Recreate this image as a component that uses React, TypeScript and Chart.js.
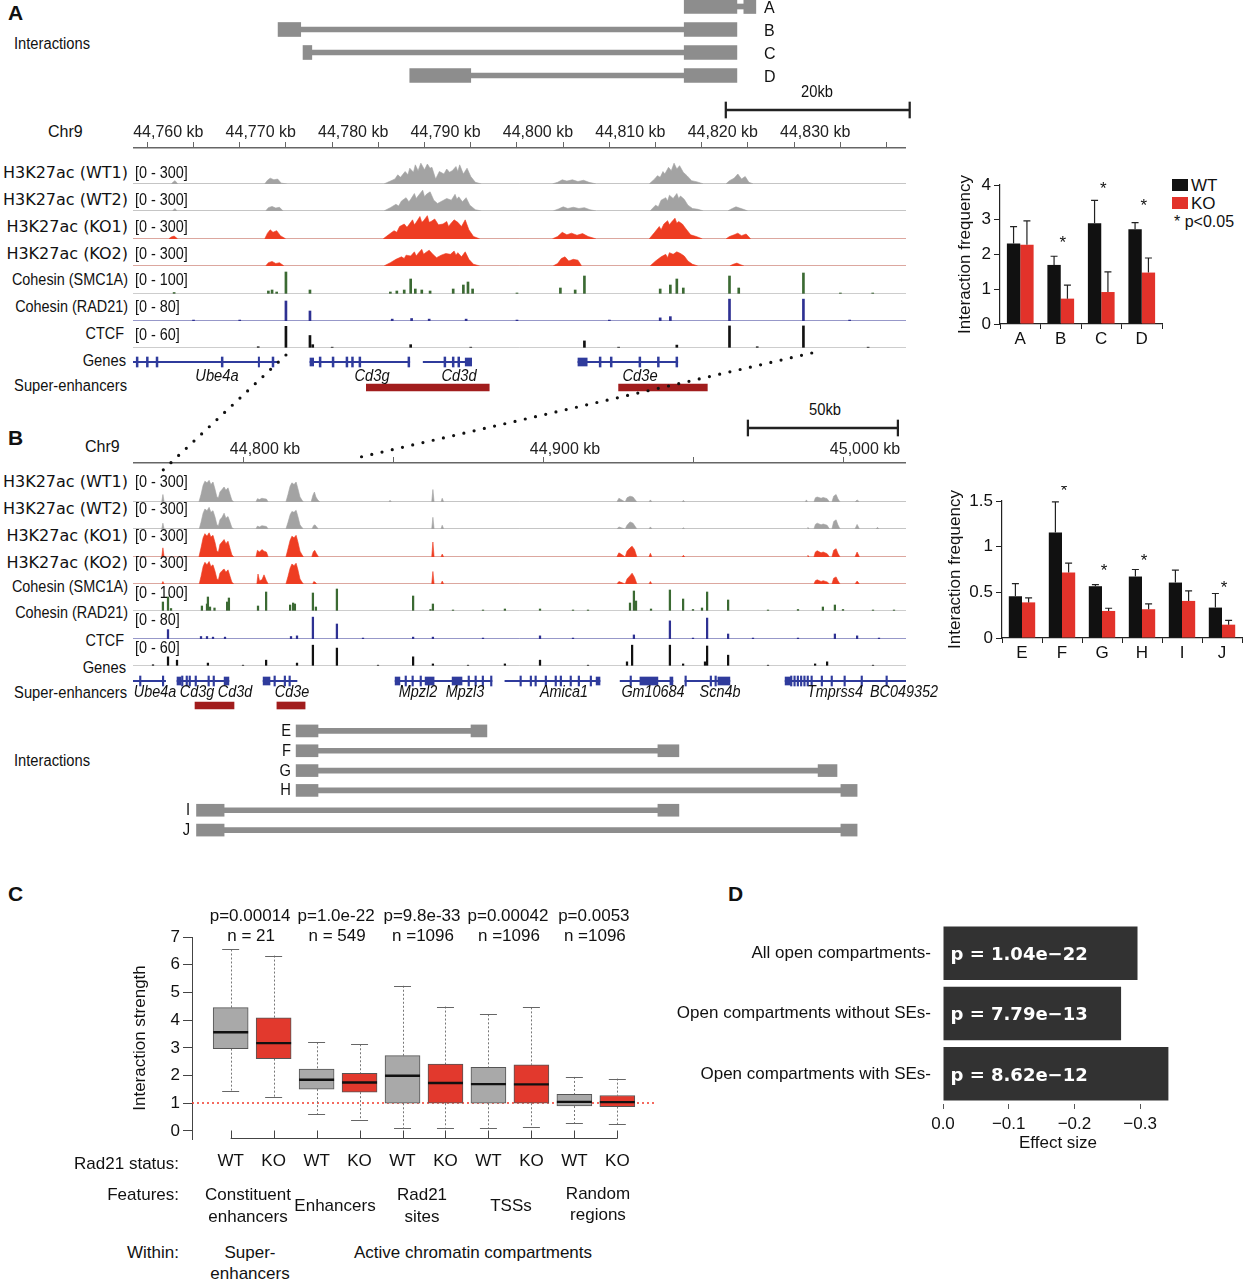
import React, { useEffect, useRef } from 'react';
import { Chart, registerables } from 'chart.js';

Chart.register(...registerables);

const SANS = "'Liberation Sans', Arial, Helvetica, sans-serif";
const DEJAVU = "'DejaVu Sans', sans-serif";
Chart.defaults.font.family = SANS;
Chart.defaults.color = '#111';

// ---------------- colours ----------------
const WT_GRAY = '#a3a3a3';
const KO_RED = '#ee3d22';
const SMC_GREEN = '#3b6a33';
const RAD_BLUE = '#2e3192';
const CTCF_BLACK = '#111111';
const BASE_GRAY = '#a8a8a8';
const GENE_BLUE = '#2f3b9c';
const SE_RED = '#a11d1d';
const INT_GRAY = '#8d8d8d';
const BAR_WT = '#111111';
const BAR_KO = '#e2322a';
const BOX_WT = '#a9a9a9';
const BOX_KO = '#e2392d';
const D_BAR = '#323232';

// ---------------- genomic windows (kb) ----------------
const A_RANGE = [44758.45, 44842.1];
const B_RANGE = [44763.33, 45021.0];

// ---------------- ruler ticks ----------------
const rulerTicksA = [44760, 44765, 44770, 44775, 44780, 44785, 44790, 44795, 44800, 44805, 44810, 44815, 44820, 44825, 44830, 44835, 44840];
const rulerLabelsA = ['44,760 kb', '', '44,770 kb', '', '44,780 kb', '', '44,790 kb', '', '44,800 kb', '', '44,810 kb', '', '44,820 kb', '', '44,830 kb', '', ''];
const rulerTicksB = [44800, 44850, 44900, 44950, 45000];
const rulerLabelsB = ['44,800 kb', '', '44,900 kb', '', '45,000 kb'];
const scaleBarA = [44822.6, 44842.5];
const scaleBarB = [44968.3, 45018.3];

// ---------------- interactions ----------------
const intNamesA = ['A', 'B', 'C', 'D'];
const intLeftA = [[44818.1, 44823.8], [44774.15, 44776.6], [44776.85, 44777.8], [44788.4, 44795.0]];
const intRightA = [[44824.55, 44825.85], [44818.1, 44823.8], [44818.1, 44823.8], [44818.1, 44823.8]];
const intNamesB = ['E', 'F', 'G', 'H', 'I', 'J'];
const intLeftB = [[44817.7, 44825], [44817.7, 44825], [44817.7, 44825], [44817.7, 44825], [44784.5, 44793.7], [44784.5, 44793.7]];
const intRightB = [[44876, 44881.3], [44938.3, 44945.3], [44991.7, 44998], [44999.3, 45004.7], [44938.3, 44945.3], [44999.3, 45004.7]];

// ---------------- tracks ----------------
const trackNames = ['H3K27ac (WT1)', 'H3K27ac (WT2)', 'H3K27ac (KO1)', 'H3K27ac (KO2)', 'Cohesin (SMC1A)', 'Cohesin (RAD21)', 'CTCF'];
const trackScales = ['[0 - 300]', '[0 - 300]', '[0 - 300]', '[0 - 300]', '[0 - 100]', '[0 - 80]', '[0 - 60]'];
const trackMax = [300, 300, 300, 300, 100, 80, 60];

// Panel A H3K27ac profiles [kb, signal]
const wt1A = [[44758.45, 0], [44762.6, 0], [44762.8, 25], [44763.0, 40], [44763.3, 0],
  [44772.7, 0], [44773.0, 45], [44773.3, 70], [44773.7, 50], [44774.1, 60], [44774.5, 10], [44775.2, 0],
  [44785.6, 0], [44786.2, 30], [44786.8, 60], [44787.1, 110], [44787.4, 80], [44787.9, 150], [44788.2, 110], [44788.4, 190], [44788.8, 140], [44789.0, 230], [44789.3, 160], [44789.6, 250], [44790.0, 170], [44790.3, 240], [44790.6, 190], [44790.8, 200], [44791.2, 60], [44791.6, 150], [44792.1, 120], [44792.4, 180], [44792.7, 140], [44793.0, 160], [44793.4, 210], [44793.6, 150], [44793.8, 230], [44794.2, 120], [44794.6, 190], [44795.0, 90], [44795.5, 20], [44796.2, 0],
  [44803.8, 0], [44804.4, 20], [44804.9, 50], [44805.4, 35], [44806.0, 50], [44806.6, 30], [44807.2, 45], [44807.8, 20], [44808.6, 0],
  [44814.3, 0], [44814.9, 60], [44815.2, 100], [44815.5, 80], [44815.8, 150], [44816.0, 120], [44816.4, 200], [44816.7, 160], [44817.0, 250], [44817.3, 180], [44817.6, 220], [44818.0, 140], [44818.4, 100], [44818.9, 40], [44819.5, 25], [44820.2, 0],
  [44822.6, 0], [44823.0, 40], [44823.5, 70], [44823.9, 120], [44824.3, 60], [44824.7, 90], [44825.1, 20], [44825.6, 0],
  [44842.1, 0]];
const wt2A = [[44758.45, 0], [44762.7, 0], [44763.0, 30], [44763.2, 0],
  [44772.8, 0], [44773.1, 40], [44773.5, 55], [44773.9, 35], [44774.3, 45], [44774.7, 0],
  [44785.6, 0], [44786.3, 40], [44786.9, 80], [44787.2, 60], [44787.5, 120], [44788.0, 160], [44788.3, 110], [44788.5, 140], [44788.9, 210], [44789.1, 150], [44789.3, 180], [44789.8, 250], [44790.0, 170], [44790.2, 200], [44790.6, 230], [44791.0, 130], [44791.4, 90], [44791.9, 120], [44792.4, 150], [44792.9, 130], [44793.3, 200], [44793.5, 140], [44793.7, 170], [44794.1, 110], [44794.5, 160], [44794.9, 70], [44795.5, 15], [44796.2, 0],
  [44803.9, 0], [44804.5, 25], [44805.0, 50], [44805.5, 30], [44806.1, 45], [44806.7, 30], [44807.3, 40], [44807.9, 15], [44808.6, 0],
  [44814.4, 0], [44815.0, 70], [44815.3, 50], [44815.6, 130], [44816.1, 160], [44816.3, 120], [44816.5, 190], [44816.9, 150], [44817.3, 210], [44817.5, 150], [44817.7, 180], [44818.1, 140], [44818.5, 70], [44819.0, 30], [44819.6, 20], [44820.2, 0],
  [44822.8, 0], [44823.2, 25], [44823.7, 50], [44824.1, 35], [44824.5, 20], [44825.0, 0],
  [44842.1, 0]];
const ko1A = [[44758.45, 0], [44762.3, 0], [44762.6, 25], [44762.9, 35], [44763.3, 0],
  [44772.7, 0], [44773.0, 70], [44773.3, 110], [44773.6, 80], [44774.0, 100], [44774.4, 40], [44775.0, 0],
  [44785.5, 0], [44786.1, 50], [44786.7, 100], [44787.0, 80], [44787.3, 150], [44787.8, 180], [44788.1, 140], [44788.3, 170], [44788.7, 230], [44788.9, 170], [44789.1, 200], [44789.5, 270], [44789.7, 200], [44789.9, 220], [44790.3, 280], [44790.5, 200], [44790.7, 210], [44791.1, 240], [44791.5, 170], [44792.0, 180], [44792.4, 210], [44792.6, 150], [44792.8, 180], [44793.2, 230], [44793.6, 200], [44794.0, 150], [44794.4, 230], [44794.8, 110], [44795.3, 30], [44796.0, 0],
  [44803.8, 0], [44804.4, 30], [44804.9, 80], [44805.4, 50], [44805.9, 70], [44806.5, 45], [44807.1, 65], [44807.7, 30], [44808.6, 0],
  [44814.3, 0], [44814.9, 80], [44815.4, 150], [44815.6, 110], [44815.9, 180], [44816.3, 220], [44816.5, 170], [44816.7, 200], [44817.1, 250], [44817.3, 190], [44817.5, 210], [44817.9, 180], [44818.3, 120], [44818.8, 50], [44819.4, 30], [44820.1, 0],
  [44822.6, 0], [44823.0, 30], [44823.5, 50], [44823.9, 70], [44824.3, 40], [44824.8, 60], [44825.3, 0],
  [44842.1, 0]];
const ko2A = [[44758.45, 0],
  [44772.8, 0], [44773.1, 40], [44773.5, 55], [44773.9, 30], [44774.3, 40], [44774.8, 0],
  [44785.6, 0], [44786.3, 40], [44786.9, 80], [44787.5, 110], [44787.8, 90], [44788.0, 130], [44788.5, 120], [44788.9, 170], [44789.1, 120], [44789.3, 150], [44789.7, 200], [44789.9, 140], [44790.1, 160], [44790.5, 190], [44790.9, 140], [44791.3, 100], [44791.8, 130], [44792.3, 150], [44792.8, 140], [44793.2, 180], [44793.4, 130], [44793.6, 160], [44794.0, 110], [44794.4, 170], [44794.8, 80], [44795.3, 20], [44796.0, 0],
  [44803.9, 0], [44804.4, 30], [44804.8, 90], [44805.2, 110], [44805.6, 60], [44806.1, 80], [44806.6, 70], [44807.0, 0],
  [44814.4, 0], [44815.0, 60], [44815.6, 110], [44816.1, 140], [44816.3, 100], [44816.5, 160], [44816.9, 140], [44817.3, 170], [44817.7, 150], [44818.1, 120], [44818.5, 60], [44819.0, 20], [44819.6, 0],
  [44823.0, 0], [44823.4, 20], [44823.8, 35], [44824.2, 15], [44824.6, 0],
  [44842.1, 0]];

// Panel A ChIP spikes [kb, signal]
const smc1aA = [[44762.9, 6], [44773.1, 12], [44773.5, 16], [44774.0, 8], [44775.0, 88], [44777.6, 16], [44786.3, 8], [44787.0, 12], [44787.8, 16], [44788.5, 60], [44789.0, 20], [44789.7, 16], [44790.6, 12], [44793.1, 20], [44794.2, 36], [44794.7, 48], [44795.2, 20], [44800, 4], [44804.7, 24], [44806.3, 16], [44807.3, 72], [44815.5, 20], [44816.6, 36], [44817.3, 60], [44818.0, 24], [44823.0, 72], [44824.0, 24], [44831.0, 84], [44835, 4], [44838.5, 4]];
const rad21A = [[44765, 3], [44770, 3], [44775.0, 64], [44777.6, 32], [44786.5, 6], [44788.6, 8], [44790.5, 6], [44794.5, 6], [44800, 3], [44810, 3], [44815.5, 10], [44816.6, 14], [44823.0, 70], [44831.0, 70], [44836, 3]];
const ctcfA = [[44772, 3], [44775.0, 52], [44777.6, 30], [44777.9, 8], [44780, 2], [44788.5, 8], [44795, 2], [44807.3, 17], [44811, 2], [44817.3, 7], [44823.0, 53], [44826, 3], [44831.0, 53], [44838, 2]];

// Panel B H3K27ac profiles
const wt1B = [[44763.33, 0], [44772.9, 0], [44773.3, 90], [44773.7, 0],
  [44785.3, 0], [44786.0, 90], [44786.7, 200], [44787.3, 250], [44788.0, 230], [44788.7, 260], [44789.3, 210], [44790.0, 240], [44790.7, 150], [44791.3, 60], [44791.8, 50], [44792.3, 120], [44793.0, 150], [44793.7, 180], [44794.3, 140], [44795.0, 170], [44795.7, 90], [44796.3, 20], [44797.0, 0],
  [44804.3, 0], [44804.8, 40], [44805.5, 30], [44806.3, 45], [44807.0, 40], [44807.8, 35], [44808.4, 0],
  [44814.3, 0], [44815.0, 90], [44815.7, 190], [44816.3, 230], [44817.0, 210], [44817.7, 240], [44818.3, 160], [44819.0, 60], [44819.7, 20], [44820.2, 0],
  [44822.7, 0], [44823.3, 80], [44823.8, 120], [44824.3, 60], [44825.0, 20], [44825.7, 0],
  [44848.6, 0], [44849.0, 20], [44849.5, 0],
  [44862.9, 0], [44863.3, 150], [44863.7, 0], [44866.0, 0], [44866.4, 45], [44866.9, 0],
  [44924.6, 0], [44925.3, 45], [44926.0, 30], [44927.4, 0], [44928.0, 50], [44929.0, 70], [44930.0, 60], [44931.3, 0],
  [44935.3, 0], [44935.8, 25], [44936.3, 0], [44946.3, 0], [44946.8, 20], [44947.3, 0],
  [44987.4, 0], [44987.8, 25], [44988.2, 0], [44990.3, 0], [44990.8, 50], [44991.4, 60], [44992.7, 45], [44993.4, 55], [44994.7, 40], [44995.5, 0], [44996.3, 0], [44996.9, 70], [44997.7, 90], [44998.3, 40], [44999.0, 0], [45004.0, 0], [45004.7, 25], [45005.5, 0],
  [45021.0, 0]];
const wt2B = [[44763.33, 0], [44772.9, 0], [44773.3, 70], [44773.7, 0],
  [44785.4, 0], [44786.0, 80], [44786.7, 190], [44787.3, 240], [44788.0, 220], [44788.7, 260], [44789.3, 200], [44790.0, 220], [44790.7, 140], [44791.3, 50], [44791.8, 40], [44792.3, 110], [44793.0, 140], [44793.7, 190], [44794.3, 130], [44795.0, 150], [44795.7, 80], [44796.3, 15], [44797.0, 0],
  [44804.3, 0], [44804.8, 35], [44805.5, 25], [44806.3, 40], [44807.0, 35], [44807.8, 30], [44808.4, 0],
  [44814.3, 0], [44815.0, 80], [44815.7, 170], [44816.3, 210], [44817.0, 200], [44817.7, 225], [44818.3, 150], [44819.0, 50], [44819.7, 15], [44820.2, 0],
  [44823.0, 0], [44823.5, 40], [44824.0, 50], [44824.6, 20], [44825.2, 0],
  [44862.9, 0], [44863.3, 140], [44863.7, 0], [44866.0, 0], [44866.4, 45], [44866.9, 0],
  [44924.6, 0], [44925.3, 25], [44926.0, 15], [44927.4, 0], [44928.0, 45], [44929.0, 85], [44930.0, 70], [44931.3, 0],
  [44935.3, 0], [44935.8, 25], [44936.3, 0], [44946.3, 0], [44946.8, 15], [44947.3, 0],
  [44988.0, 0], [44988.3, 20], [44988.7, 0], [44990.3, 0], [44990.8, 55], [44991.4, 70], [44992.7, 50], [44993.4, 60], [44994.7, 45], [44995.5, 0], [44996.3, 0], [44996.9, 90], [44997.7, 110], [44998.3, 50], [44999.0, 0], [45004.0, 0], [45004.7, 55], [45005.5, 0], [45011.0, 0], [45011.5, 20], [45012.0, 0],
  [45021.0, 0]];
const ko1B = [[44763.33, 0], [44772.9, 0], [44773.3, 110], [44773.7, 0],
  [44785.3, 0], [44786.0, 110], [44786.7, 230], [44787.3, 280], [44788.0, 250], [44788.7, 290], [44789.3, 240], [44790.0, 260], [44790.7, 170], [44791.3, 70], [44791.8, 60], [44792.3, 150], [44793.0, 180], [44793.7, 210], [44794.3, 160], [44795.0, 190], [44795.7, 100], [44796.3, 25], [44797.0, 0],
  [44804.3, 0], [44804.8, 80], [44805.5, 60], [44806.3, 90], [44807.0, 70], [44807.8, 60], [44808.4, 0],
  [44814.3, 0], [44815.0, 100], [44815.7, 200], [44816.3, 250], [44817.0, 230], [44817.7, 260], [44818.3, 180], [44819.0, 70], [44819.7, 25], [44820.2, 0],
  [44822.9, 0], [44823.4, 60], [44823.9, 80], [44824.5, 40], [44825.2, 0],
  [44862.9, 0], [44863.3, 180], [44863.7, 0], [44866.0, 0], [44866.4, 35], [44866.9, 0],
  [44924.6, 0], [44925.3, 50], [44926.0, 35], [44927.4, 0], [44928.0, 70], [44929.0, 110], [44929.7, 130], [44930.5, 90], [44931.3, 0],
  [44935.3, 0], [44935.8, 45], [44936.3, 0], [44946.3, 0], [44946.8, 20], [44947.3, 0],
  [44988.0, 0], [44988.3, 20], [44988.7, 0], [44990.3, 0], [44990.8, 60], [44991.4, 75], [44992.7, 50], [44993.4, 60], [44994.7, 40], [44995.5, 0], [44996.3, 0], [44996.9, 80], [44997.7, 100], [44998.3, 45], [44999.0, 0], [45004.0, 0], [45004.7, 60], [45005.5, 0],
  [45021.0, 0]];
const ko2B = [[44763.33, 0], [44772.9, 0], [44773.3, 30], [44773.7, 0],
  [44785.4, 0], [44786.0, 90], [44786.7, 210], [44787.3, 260], [44788.0, 230], [44788.7, 270], [44789.3, 210], [44790.0, 230], [44790.7, 150], [44791.3, 60], [44791.8, 50], [44792.3, 130], [44793.0, 160], [44793.7, 180], [44794.3, 140], [44795.0, 170], [44795.7, 90], [44796.3, 20], [44797.0, 0],
  [44804.6, 0], [44805.0, 120], [44805.5, 40], [44806.3, 50], [44807.0, 110], [44807.8, 40], [44808.4, 0],
  [44814.3, 0], [44815.0, 90], [44815.7, 190], [44816.3, 240], [44817.0, 220], [44817.7, 250], [44818.3, 170], [44819.0, 60], [44819.7, 20], [44820.2, 0],
  [44823.2, 0], [44823.6, 30], [44824.1, 20], [44824.6, 0],
  [44862.9, 0], [44863.3, 150], [44863.7, 0], [44866.0, 0], [44866.4, 35], [44866.9, 0],
  [44924.6, 0], [44925.3, 30], [44926.0, 20], [44927.4, 0], [44928.0, 60], [44929.0, 100], [44929.7, 130], [44930.5, 80], [44931.3, 0],
  [44935.3, 0], [44935.8, 30], [44936.3, 0],
  [44990.3, 0], [44990.8, 40], [44991.4, 50], [44992.7, 30], [44993.4, 40], [44994.7, 25], [44995.5, 0], [44996.3, 0], [44996.9, 70], [44997.7, 85], [44998.3, 40], [44999.0, 0], [45004.0, 0], [45004.7, 35], [45005.5, 0],
  [45021.0, 0]];

// Panel B ChIP spikes
const smc1aB = [[44773.3, 36], [44775, 56], [44776, 10], [44786.3, 20], [44788, 28], [44788.3, 56], [44789, 16], [44790.5, 12], [44794.7, 36], [44795.3, 52], [44805, 20], [44807.7, 76], [44815.7, 24], [44816.7, 32], [44817.3, 28], [44823.3, 72], [44824.3, 16], [44831.3, 88], [44856.7, 60], [44862.5, 6], [44863.3, 28], [44870, 4], [44880, 4], [44887.3, 8], [44899, 8], [44910, 4], [44915, 4], [44929, 32], [44930.3, 80], [44931, 40], [44936, 8], [44942.3, 84], [44946.7, 48], [44950, 6], [44953, 12], [44954.7, 76], [44961.7, 44], [44975, 4], [44985, 6], [44993.3, 16], [44997.3, 24], [45000, 6], [45010, 4], [45017, 4]];
const rad21B = [[44775, 30], [44786, 8], [44788, 8], [44790, 6], [44794, 6], [44816, 8], [44818, 10], [44823.3, 70], [44831.3, 48], [44840, 3], [44856.7, 6], [44863.3, 6], [44880, 3], [44899, 10], [44910, 3], [44930.3, 13], [44942.3, 58], [44950, 3], [44954.7, 67], [44961.7, 16], [44970, 3], [44985, 3], [44997.3, 16], [45004.7, 10], [45012, 3]];
const ctcfB = [[44770, 3], [44775, 22], [44778, 14], [44788.3, 7], [44800, 2], [44807.7, 14], [44818, 7], [44823.3, 50], [44831.3, 43], [44845, 2], [44856.7, 22], [44863.3, 5], [44875, 2], [44887.3, 5], [44899, 14], [44915, 2], [44928, 10], [44929.7, 50], [44942.3, 50], [44946.7, 5], [44954, 10], [44954.7, 48], [44961.7, 26], [44975, 2], [44990.7, 5], [44994.7, 10], [45010, 2]];

// ---------------- genes ----------------
const geneLinesA = [[44758.45, 44774.0], [44777.6, 44788.4], [44789.85, 44795.1], [44806.6, 44817.4]];
const exonsA = [[44758.8, 44759.0], [44759.9, 44760.1], [44760.95, 44761.15], [44768.0, 44768.2], [44772.0, 44772.15], [44773.5, 44773.7], [44778.6, 44778.8], [44780.0, 44780.2], [44781.5, 44781.7], [44782.1, 44782.3], [44782.9, 44783.1], [44788.2, 44788.4], [44792.1, 44792.3], [44793.0, 44793.2], [44793.6, 44793.8], [44808.9, 44809.1], [44810.1, 44810.3], [44813.2, 44813.4], [44815.2, 44815.4], [44817.2, 44817.4]];
const utrA = [[44777.6, 44778.0], [44794.4, 44795.1], [44806.6, 44807.6]];
const geneNamesA = ['Ube4a', 'Cd3g', 'Cd3d', 'Cd3e'];
const geneLinesB = [[44763.33, 44774.2], [44778, 44795.3], [44806.7, 44818], [44850.7, 44883], [44887.3, 44919], [44925.7, 44943.3], [44947.3, 44962.3], [44980.7, 45021]];
const exonsB = [[44765.5, 44766], [44773.1, 44773.6], [44779.5, 44780], [44781, 44781.5], [44782, 44782.5], [44784, 44784.5], [44788.3, 44788.8], [44790, 44790.5], [44810.3, 44810.8], [44813.7, 44814.2], [44815.3, 44815.8], [44854, 44854.5], [44856.3, 44856.8], [44859, 44859.5], [44875, 44875.5], [44877.3, 44877.8], [44879.7, 44880.2], [44882.5, 44883], [44892.3, 44892.8], [44895.7, 44896.2], [44897.3, 44897.8], [44900.7, 44901.2], [44904, 44904.5], [44905.7, 44906.2], [44909, 44909.5], [44911.7, 44912.2], [44915.7, 44916.2], [44929, 44929.5], [44947.3, 44947.8], [44955.7, 44956.2], [44957.3, 44957.8], [44982.5, 44983], [44983.6, 44984.1], [44984.7, 44985.2], [44985.8, 44986.3], [44986.9, 44987.4], [44988, 44988.5], [44989.3, 44989.8], [44992.7, 44993.2], [44996, 44996.5], [45000.3, 45000.8], [45006, 45006.5], [45014.3, 45014.8]];
const utrB = [[44778, 44779.3], [44793.7, 44795.3], [44806.7, 44809], [44850.7, 44852.3], [44860.7, 44863.7], [44869.7, 44873], [44917.7, 44919], [44932.3, 44938.3], [44942.3, 44943.3], [44958.3, 44962.3], [44980.7, 44982.5]];
const geneNamesB = ['Ube4a', 'Cd3g', 'Cd3d', 'Cd3e', 'Mpzl2', 'Mpzl3', 'Amica1', 'Gm10684', 'Scn4b', 'Tmprss4', 'BC049352'];
const seA = [[44783.7, 44797.0], [44811.0, 44820.6]];
const seB = [[44784.0, 44797.0], [44811.3, 44820.7]];
const zoomLinks = [{ fromKb: 44775.0, toKb: 44772.3 }, { fromKb: 44831.9, toKb: 44837.7 }];

// ---------------- bar charts (A, B right) ----------------
const barCatsA = ['A', 'B', 'C', 'D'];
const wtA = [2.32, 1.70, 2.90, 2.73];
const wtErrA = [2.80, 1.95, 3.56, 2.92];
const koA = [2.28, 0.73, 0.92, 1.48];
const koErrA = [2.97, 1.12, 1.50, 1.90];
const starA = [null, 2.45, 4.0, 3.5];
const yTicksA = [0, 1, 2, 3, 4];
const barCatsB = ['E', 'F', 'G', 'H', 'I', 'J'];
const wtB = [0.457, 1.156, 0.567, 0.673, 0.607, 0.333];
const wtErrB = [0.596, 1.49, 0.585, 0.75, 0.743, 0.487];
const koB = [0.39, 0.717, 0.296, 0.315, 0.406, 0.146];
const koErrB = [0.44, 0.82, 0.326, 0.373, 0.516, 0.194];
const starB = [null, 1.645, 0.777, 0.887, null, 0.59];
const yTicksB = [0, 0.5, 1, 1.5];

// ---------------- box plot (C) ----------------
const boxPos = [1, 2, 3, 4, 5, 6, 7, 8, 9, 10];
const boxStatus = ['WT', 'KO', 'WT', 'KO', 'WT', 'KO', 'WT', 'KO', 'WT', 'KO'];
const boxLo = [1.46, 1.23, 0.60, 0.38, 0.09, 0.12, 0.10, 0.15, 0.29, 0.24];
const boxQ1 = [2.97, 2.61, 1.51, 1.40, 1.0, 1.0, 1.0, 1.0, 0.90, 0.88];
const boxMed = [3.56, 3.17, 1.85, 1.75, 1.99, 1.73, 1.69, 1.68, 1.05, 1.04];
const boxQ3 = [4.45, 4.08, 2.23, 2.08, 2.72, 2.41, 2.30, 2.39, 1.32, 1.28];
const boxHi = [6.55, 6.33, 3.20, 3.13, 5.24, 4.49, 4.21, 4.46, 1.95, 1.89];
const boxTicks = [0, 1, 2, 3, 4, 5, 6, 7];
const refLevel = 1;
const groupP = ['p=0.00014', 'p=1.0e-22', 'p=9.8e-33', 'p=0.00042', 'p=0.0053'];
const groupN = ['n = 21', 'n = 549', 'n =1096', 'n =1096', 'n =1096'];

// ---------------- effect sizes (D) ----------------
const effLabels = ['All open compartments', 'Open compartments without SEs', 'Open compartments with SEs'];
const effSize = [-0.296, -0.271, -0.343];
const effP = ['p = 1.04e\u221222', 'p = 7.79e\u221213', 'p = 8.62e\u221212'];
const effTicks = [0, -0.1, -0.2, -0.3];

// =====================================================================
const BASE: any = {
  animation: false,
  responsive: false,
  maintainAspectRatio: false,
  devicePixelRatio: 1,
  events: [],
  plugins: { legend: { display: false }, tooltip: { enabled: false } },
};

function areaTrack(pts: number[][], range: number[], ymax: number, fill: string, base: string) {
  return {
    type: 'line',
    data: {
      datasets: [
        { data: pts.map(([x, y]) => ({ x, y })), fill: 'origin', backgroundColor: fill, borderColor: fill, borderWidth: 0.6, pointRadius: 0, tension: 0 },
        { data: [{ x: range[0], y: 0 }, { x: range[1], y: 0 }], borderColor: base, borderWidth: 1, pointRadius: 0, fill: false },
      ],
    },
    options: {
      ...BASE,
      layout: { padding: { top: 0, bottom: 2, left: 0, right: 0 } },
      scales: {
        x: { type: 'linear', min: range[0], max: range[1], display: false },
        y: { type: 'linear', min: 0, max: ymax, display: false },
      },
    },
  };
}

function spikeTrack(pts: number[][], range: number[], ymax: number, color: string, base: string, thick: number) {
  return {
    type: 'bar',
    data: {
      datasets: [
        { type: 'bar', data: pts.map(([x, y]) => ({ x, y })), backgroundColor: color, barThickness: thick, order: 1 },
        { type: 'line', data: [{ x: range[0], y: 0 }, { x: range[1], y: 0 }], borderColor: base, borderWidth: 1, pointRadius: 0, order: 0 },
      ],
    },
    options: {
      ...BASE,
      layout: { padding: { top: 0, bottom: 2, left: 0, right: 0 } },
      scales: {
        x: { type: 'linear', min: range[0], max: range[1], display: false, offset: false },
        y: { type: 'linear', min: 0, max: ymax, display: false },
      },
    },
  };
}

function hbarConfig(range: number[], nRows: number, layers: any[]) {
  return {
    type: 'bar',
    data: {
      datasets: layers.map((l) => ({ data: l.items, backgroundColor: l.color, barThickness: l.thick, stack: 'one', borderWidth: 0 })),
    },
    options: {
      ...BASE,
      indexAxis: 'y',
      layout: { padding: 0 },
      scales: {
        x: { type: 'linear', min: range[0], max: range[1], display: false, stacked: false },
        y: { type: 'linear', min: -0.5, max: nRows - 0.5, reverse: true, display: false, offset: false },
      },
    },
  };
}

function interactionConfig(range: number[], left: number[][], right: number[][], boxH: number, linkH: number) {
  const links = left.map((l, i) => ({ x: [l[1], right[i][0]], y: i }));
  const anchors = [...left.map((l, i) => ({ x: l, y: i })), ...right.map((r, i) => ({ x: r, y: i }))];
  return hbarConfig(range, left.length, [
    { items: links, thick: linkH, color: INT_GRAY },
    { items: anchors, thick: boxH, color: INT_GRAY },
  ]);
}

function geneConfig(range: number[], lines: number[][], exons: number[][], utrs: number[][]) {
  return hbarConfig(range, 1, [
    { items: lines.map((g) => ({ x: g, y: 0 })), thick: 1.2, color: GENE_BLUE },
    { items: exons.map((g) => ({ x: g, y: 0 })), thick: 10, color: GENE_BLUE },
    { items: utrs.map((g) => ({ x: g, y: 0 })), thick: 8, color: GENE_BLUE },
  ]);
}

function seConfig(range: number[], bars: number[][]) {
  return hbarConfig(range, 1, [{ items: bars.map((b) => ({ x: b, y: 0 })), thick: 7, color: SE_RED }]);
}

function scaleBarConfig(range: number[], bar: number[], pxPerKb: number) {
  const cap = 0.8 / pxPerKb;
  return hbarConfig(range, 1, [
    { items: [{ x: bar, y: 0 }], thick: 1.6, color: '#222' },
    { items: [{ x: [bar[0] - cap, bar[0] + cap], y: 0 }, { x: [bar[1] - cap, bar[1] + cap], y: 0 }], thick: 16, color: '#222' },
  ]);
}

function rulerConfig(range: number[], ticks: number[], labels: string[], labelOffset: number, pad: number) {
  return {
    type: 'line',
    data: { datasets: [{ data: [] }] },
    options: {
      ...BASE,
      layout: { padding: 0 },
      scales: {
        x: {
          type: 'linear', position: 'top', min: range[0], max: range[1], offset: false,
          afterBuildTicks: (s: any) => { s.ticks = ticks.map((v) => ({ value: v })); },
          afterFit: (s: any) => { s.height = 28; s.paddingLeft = 0; s.paddingRight = 0; },
          ticks: { autoSkip: false, maxRotation: 0, minRotation: 0, labelOffset, padding: pad, font: { size: 16 }, color: '#222', callback: (_v: any, i: number) => labels[i] },
          grid: { drawOnChartArea: false, tickLength: 6, color: '#666', lineWidth: 1 },
          border: { color: '#666', width: 1.5 },
        },
        y: { display: false },
      },
    },
  };
}

const errPlugin = {
  id: 'errBars',
  afterDatasetsDraw(chart: any) {
    const { ctx } = chart;
    const ys = chart.scales.y;
    chart.data.datasets.forEach((ds: any, di: number) => {
      const meta = chart.getDatasetMeta(di);
      (ds.errTop || []).forEach((e: number, i: number) => {
        const bar = meta.data[i];
        if (!bar || e == null) return;
        const py = ys.getPixelForValue(e);
        ctx.save();
        ctx.strokeStyle = '#222';
        ctx.lineWidth = 1.2;
        ctx.beginPath();
        ctx.moveTo(bar.x, bar.y);
        ctx.lineTo(bar.x, py);
        ctx.moveTo(bar.x - 3.5, py);
        ctx.lineTo(bar.x + 3.5, py);
        ctx.stroke();
        ctx.restore();
      });
    });
  },
};

const starPlugin = {
  id: 'stars',
  afterDatasetsDraw(chart: any) {
    const { ctx } = chart;
    const stars = chart.data.datasets[0].stars || [];
    ctx.save();
    ctx.fillStyle = '#111';
    ctx.font = `17px ${SANS}`;
    ctx.textAlign = 'center';
    ctx.textBaseline = 'middle';
    stars.forEach((v: number | null, i: number) => {
      if (v == null) return;
      ctx.fillText('*', chart.scales.x.getPixelForValue(i) + 2, chart.scales.y.getPixelForValue(v) + 4);
    });
    ctx.restore();
  },
};

function groupedBarConfig(cats: string[], wt: number[], ko: number[], wtErr: number[], koErr: number[], stars: any[], ymax: number, yticks: number[], yW: number, padTop: number) {
  return {
    type: 'bar',
    data: {
      labels: cats,
      datasets: [
        { label: 'WT', data: wt, backgroundColor: BAR_WT, errTop: wtErr, stars, categoryPercentage: 0.66, barPercentage: 1 },
        { label: 'KO', data: ko, backgroundColor: BAR_KO, errTop: koErr, categoryPercentage: 0.66, barPercentage: 1 },
      ],
    },
    options: {
      ...BASE,
      layout: { padding: { top: padTop, right: 3, left: 0, bottom: 0 } },
      scales: {
        x: {
          grid: { offset: true, drawOnChartArea: false, tickLength: 5, color: '#222' },
          border: { color: '#222', width: 1.2 },
          ticks: { font: { size: 17 }, color: '#111', padding: 0 },
          afterFit: (s: any) => { s.height = 26; s.paddingLeft = 0; s.paddingRight = 0; },
        },
        y: {
          min: 0, max: ymax,
          afterBuildTicks: (s: any) => { s.ticks = yticks.map((v) => ({ value: v })); },
          afterFit: (s: any) => { s.width = yW; s.paddingTop = 0; s.paddingBottom = 0; },
          grid: { drawOnChartArea: false, tickLength: 6, color: '#222' },
          border: { color: '#222', width: 1.2 },
          ticks: { font: { size: 17 }, color: '#111', padding: 3, callback: (v: number) => String(v) },
          title: { display: true, text: 'Interaction frequency', font: { size: 17 }, color: '#111', padding: { top: 0, bottom: 0 } },
        },
      },
    },
    plugins: [errPlugin, starPlugin],
  };
}

const boxPlugin = {
  id: 'boxExtras',
  beforeDatasetsDraw(chart: any) {
    const { ctx, chartArea: a } = chart;
    const x = chart.scales.x;
    const y = chart.scales.y;
    ctx.save();
    ctx.strokeStyle = '#f2382a';
    ctx.lineWidth = 1.5;
    ctx.setLineDash([2, 3]);
    const ry = Math.round(y.getPixelForValue(refLevel));
    ctx.beginPath();
    ctx.moveTo(a.left, ry);
    ctx.lineTo(a.right, ry);
    ctx.stroke();
    ctx.strokeStyle = '#777';
    ctx.lineWidth = 1;
    ctx.setLineDash([2, 2]);
    boxPos.forEach((p, i) => {
      const px = Math.round(x.getPixelForValue(p)) + 0.5;
      ctx.beginPath();
      ctx.moveTo(px, y.getPixelForValue(boxHi[i]));
      ctx.lineTo(px, y.getPixelForValue(boxQ3[i]));
      ctx.moveTo(px, y.getPixelForValue(boxQ1[i]));
      ctx.lineTo(px, y.getPixelForValue(boxLo[i]));
      ctx.stroke();
    });
    ctx.setLineDash([]);
    ctx.strokeStyle = '#666';
    boxPos.forEach((p, i) => {
      const px = x.getPixelForValue(p);
      [boxHi[i], boxLo[i]].forEach((v) => {
        const py = Math.round(y.getPixelForValue(v)) + 0.5;
        ctx.beginPath();
        ctx.moveTo(px - 8.5, py);
        ctx.lineTo(px + 8.5, py);
        ctx.stroke();
      });
    });
    ctx.restore();
  },
  afterDatasetsDraw(chart: any) {
    const { ctx, chartArea: a } = chart;
    const x = chart.scales.x;
    const y = chart.scales.y;
    const meta = chart.getDatasetMeta(0);
    ctx.save();
    ctx.strokeStyle = '#111';
    ctx.lineWidth = 2.4;
    boxPos.forEach((_p, i) => {
      const el = meta.data[i];
      const py = y.getPixelForValue(boxMed[i]);
      ctx.beginPath();
      ctx.moveTo(el.x - el.width / 2, py);
      ctx.lineTo(el.x + el.width / 2, py);
      ctx.stroke();
    });
    // R style x axis: line from first to last box, ticks pointing up
    ctx.strokeStyle = '#444';
    ctx.lineWidth = 1;
    const by = Math.round(a.bottom) - 0.5;
    ctx.beginPath();
    ctx.moveTo(x.getPixelForValue(boxPos[0]), by);
    ctx.lineTo(x.getPixelForValue(boxPos[boxPos.length - 1]), by);
    boxPos.forEach((p) => {
      const px = Math.round(x.getPixelForValue(p)) + 0.5;
      ctx.moveTo(px, by);
      ctx.lineTo(px, by - 8);
    });
    ctx.stroke();
    // texts: p-values, n, status
    ctx.fillStyle = '#111';
    ctx.font = `17px ${SANS}`;
    ctx.textAlign = 'center';
    ctx.textBaseline = 'middle';
    groupP.forEach((t, g) => {
      const cx = (x.getPixelForValue(boxPos[2 * g]) + x.getPixelForValue(boxPos[2 * g + 1])) / 2;
      ctx.fillText(t, cx - 2, a.top - 21);
      ctx.fillText(groupN[g], cx - 1, a.top - 1);
    });
    boxStatus.forEach((s, i) => {
      ctx.fillText(s, x.getPixelForValue(boxPos[i]), a.bottom + 22);
    });
    ctx.restore();
  },
};

function boxConfig() {
  return {
    type: 'bar',
    data: {
      datasets: [{
        data: boxPos.map((p, i) => ({ x: p, y: [boxQ1[i], boxQ3[i]] })),
        backgroundColor: boxStatus.map((s) => (s === 'WT' ? BOX_WT : BOX_KO)),
        borderColor: '#555', borderWidth: 1, borderSkipped: false, barThickness: 35,
      }],
    },
    options: {
      ...BASE,
      layout: { padding: { top: 37, right: 2, bottom: 32, left: 0 } },
      scales: {
        x: { type: 'linear', min: 0.1, max: 10.9, display: false, offset: false },
        y: {
          type: 'linear', min: -0.29, max: 7,
          afterBuildTicks: (s: any) => { s.ticks = boxTicks.map((v) => ({ value: v })); },
          afterFit: (s: any) => { s.width = 66; s.paddingTop = 0; s.paddingBottom = 0; },
          grid: { drawOnChartArea: false, tickLength: 9, color: '#444' },
          border: { color: '#444', width: 1 },
          ticks: { font: { size: 17 }, color: '#111', padding: 3 },
          title: { display: true, text: 'Interaction strength', font: { size: 17 }, color: '#111', padding: { top: 4, bottom: 0 } },
        },
      },
    },
    plugins: [boxPlugin],
  };
}

const pTextPlugin = {
  id: 'pText',
  afterDatasetsDraw(chart: any) {
    const { ctx } = chart;
    const meta = chart.getDatasetMeta(0);
    ctx.save();
    ctx.fillStyle = '#fff';
    ctx.font = `bold 18px ${DEJAVU}`;
    ctx.textBaseline = 'middle';
    ctx.textAlign = 'left';
    effP.forEach((t, i) => {
      const el = meta.data[i];
      ctx.fillText(t, Math.min(el.x, el.base) + 7, el.y + 2);
    });
    ctx.restore();
  },
};

function effectConfig() {
  return {
    type: 'bar',
    data: {
      labels: effLabels.map((l) => l + '-'),
      datasets: [{ data: effSize, backgroundColor: D_BAR, categoryPercentage: 0.887, barPercentage: 1 }],
    },
    options: {
      ...BASE,
      indexAxis: 'y',
      layout: { padding: { top: 8, right: 7, left: 0, bottom: 0 } },
      scales: {
        x: {
          type: 'linear', min: -0.35, max: 0, reverse: true,
          afterBuildTicks: (s: any) => { s.ticks = effTicks.map((v) => ({ value: v })); },
          afterFit: (s: any) => { s.height = 51; s.paddingLeft = 0; s.paddingRight = 0; },
          ticks: { font: { size: 17 }, color: '#111', padding: 5, callback: (v: number) => (v === 0 ? '0.0' : '\u2212' + Math.abs(v).toFixed(1)) },
          grid: { drawOnChartArea: false, tickLength: 5, color: '#555' },
          border: { display: false },
          title: { display: true, text: 'Effect size', font: { size: 17 }, color: '#111', padding: { top: 0, bottom: 1 } },
        },
        y: {
          afterFit: (s: any) => { s.width = 283; s.paddingTop = 0; s.paddingBottom = 0; },
          grid: { display: false },
          border: { display: false },
          ticks: { font: { size: 17 }, color: '#111', padding: 4 },
        },
      },
    },
    plugins: [pTextPlugin],
  };
}

// =====================================================================
function ChartBox({ x, y, w, h, make }: { x: number; y: number; w: number; h: number; make: () => any }) {
  const ref = useRef<HTMLCanvasElement | null>(null);
  useEffect(() => {
    if (!ref.current) return;
    const c = new Chart(ref.current, make());
    return () => c.destroy();
  }, []);
  return <canvas ref={ref} width={w} height={h} style={{ position: 'absolute', left: x, top: Math.round(y), width: w, height: h, display: 'block' }} />;
}

function Txt({ x, y, t, a = 'l', s = 16, f = SANS, b = false, i = false, sx = 1, c = '#111' }: any) {
  const tx = a === 'l' ? '0' : a === 'r' ? '-100%' : '-50%';
  const origin = a === 'l' ? 'left' : a === 'r' ? 'right' : 'center';
  return (
    <div style={{
      position: 'absolute', left: x, top: y, transform: `translate(${tx},-50%) scaleX(${sx})`, transformOrigin: `${origin} center`,
      fontSize: s, fontFamily: f, fontWeight: b ? 'bold' : 'normal', fontStyle: i ? 'italic' : 'normal', whiteSpace: 'nowrap', lineHeight: 1, color: c,
    }}>{t}</div>
  );
}

const TRACK_LEFT = 133;
const TRACK_W = 773;
const pxA = TRACK_W / (A_RANGE[1] - A_RANGE[0]);
const pxB = TRACK_W / (B_RANGE[1] - B_RANGE[0]);
const xOfA = (kb: number) => TRACK_LEFT + (kb - A_RANGE[0]) * pxA;
const xOfB = (kb: number) => TRACK_LEFT + (kb - B_RANGE[0]) * pxB;
const SB_W = 790;
const sbRangeA = [A_RANGE[0], A_RANGE[0] + SB_W / pxA];
const sbRangeB = [B_RANGE[0], B_RANGE[0] + SB_W / pxB];

const areaColors = [WT_GRAY, WT_GRAY, KO_RED, KO_RED];
const spikeColors = [SMC_GREEN, RAD_BLUE, CTCF_BLACK];
const spikeBase = ['#9a9a9a', RAD_BLUE, '#9a9a9a'];

function TrackLabels({ scaleYs, nameYs }: { scaleYs: number[]; nameYs: number[] }) {
  return (
    <>
      {trackNames.map((n, i) => (i < 4
        ? <Txt key={'n' + i} x={128} y={nameYs[i]} t={n} a="r" s={16} f={DEJAVU} />
        : <Txt key={'n' + i} x={i === 6 ? 124 : 128} y={nameYs[i]} t={n} a="r" s={16} sx={0.9} />))}
      {trackScales.map((n, i) => <Txt key={'s' + i} x={135} y={scaleYs[i]} t={n} s={16} sx={0.9} />)}
    </>
  );
}

export default function App() {
  const baseA = 184;
  const baseB = 501.7;
  const step = 27.4;
  const geneNameXA = [217, 372, 459, 640];
  const geneNameXB = [155, 197, 235, 292, 418, 465, 564, 653, 720, 835, 904];
  return (
    <div style={{ position: 'absolute', left: 0, top: 0, width: 1245, height: 1280, background: '#fff', overflow: 'hidden', fontFamily: SANS, color: '#111' }}>
      {/* ================= Panel A ================= */}
      <ChartBox x={TRACK_LEFT} y={-5} w={TRACK_W} h={92} make={() => interactionConfig(A_RANGE, intLeftA, intRightA, 14, 5)} />
      <ChartBox x={TRACK_LEFT} y={100} w={SB_W} h={20} make={() => scaleBarConfig(sbRangeA, scaleBarA, pxA)} />
      <ChartBox x={TRACK_LEFT} y={120} w={TRACK_W} h={31} make={() => rulerConfig(A_RANGE, rulerTicksA, rulerLabelsA, 21, 0)} />
      {[wt1A, wt2A, ko1A, ko2A].map((d, i) => (
        <ChartBox key={'aa' + i} x={TRACK_LEFT} y={baseA - 25 + step * i} w={TRACK_W} h={27} make={() => areaTrack(d, A_RANGE, trackMax[i], areaColors[i], BASE_GRAY)} />
      ))}
      {[smc1aA, rad21A, ctcfA].map((d, i) => (
        <ChartBox key={'as' + i} x={TRACK_LEFT} y={baseA - 25 + step * (i + 4)} w={TRACK_W} h={27} make={() => spikeTrack(d, A_RANGE, trackMax[i + 4], spikeColors[i], spikeBase[i], 2)} />
      ))}
      <ChartBox x={TRACK_LEFT} y={355} w={TRACK_W} h={14} make={() => geneConfig(A_RANGE, geneLinesA, exonsA, utrA)} />
      <ChartBox x={TRACK_LEFT} y={383} w={TRACK_W} h={9} make={() => seConfig(A_RANGE, seA)} />

      <Txt x={8} y={12} t="A" s={21} b />
      <Txt x={14} y={44} t="Interactions" s={16} sx={0.92} />
      {intNamesA.map((n, i) => <Txt key={'ia' + n} x={764} y={8 + 23 * i} t={n} s={16} />)}
      <Txt x={817} y={92} t="20kb" a="c" s={16} sx={0.92} />
      <Txt x={48} y={132} t="Chr9" s={16} />
      <TrackLabels nameYs={[173, 200, 227, 254, 280, 307, 334]} scaleYs={[173, 200, 227, 254, 280, 307, 335]} />
      <Txt x={126} y={361} t="Genes" a="r" s={16} sx={0.92} />
      <Txt x={127} y={386} t="Super-enhancers" a="r" s={16} sx={0.92} />
      {geneNamesA.map((n, i) => <Txt key={'ga' + n} x={geneNameXA[i]} y={376} t={n} a="c" s={16} i sx={0.92} />)}

      {/* ================= Panel B ================= */}
      <ChartBox x={TRACK_LEFT} y={418} w={SB_W} h={20} make={() => scaleBarConfig(sbRangeB, scaleBarB, pxB)} />
      <ChartBox x={TRACK_LEFT} y={435} w={TRACK_W} h={31} make={() => rulerConfig(B_RANGE, rulerTicksB, rulerLabelsB, 22, -2)} />
      {[wt1B, wt2B, ko1B, ko2B].map((d, i) => (
        <ChartBox key={'ba' + i} x={TRACK_LEFT} y={baseB - 25 + step * i} w={TRACK_W} h={27} make={() => areaTrack(d, B_RANGE, trackMax[i], areaColors[i], BASE_GRAY)} />
      ))}
      {[smc1aB, rad21B, ctcfB].map((d, i) => (
        <ChartBox key={'bs' + i} x={TRACK_LEFT} y={baseB - 25 + step * (i + 4)} w={TRACK_W} h={27} make={() => spikeTrack(d, B_RANGE, trackMax[i + 4], spikeColors[i], spikeBase[i], 1.6)} />
      ))}
      <ChartBox x={TRACK_LEFT} y={674} w={TRACK_W} h={14} make={() => geneConfig(B_RANGE, geneLinesB, exonsB, utrB)} />
      <ChartBox x={TRACK_LEFT} y={701} w={TRACK_W} h={9} make={() => seConfig(B_RANGE, seB)} />
      <ChartBox x={TRACK_LEFT} y={721} w={TRACK_W} h={119} make={() => interactionConfig(B_RANGE, intLeftB, intRightB, 12, 5)} />

      <Txt x={8} y={437} t="B" s={21} b />
      <Txt x={825} y={410} t="50kb" a="c" s={16} sx={0.92} />
      <Txt x={85} y={447} t="Chr9" s={16} />
      <TrackLabels nameYs={[482, 509, 536, 563, 587, 613, 641]} scaleYs={[482, 509, 536, 563, 593, 620, 648]} />
      <Txt x={126} y={668} t="Genes" a="r" s={16} sx={0.92} />
      <Txt x={127} y={693} t="Super-enhancers" a="r" s={16} sx={0.92} />
      {geneNamesB.map((n, i) => <Txt key={'gb' + n} x={geneNameXB[i]} y={692} t={n} a="c" s={16} i sx={0.9} />)}
      <Txt x={14} y={761} t="Interactions" s={16} sx={0.92} />
      {intNamesB.map((n, i) => <Txt key={'ib' + n} x={i < 4 ? 291 : 190} y={731 + 19.83 * i} t={n} a="r" s={16} sx={0.92} />)}

      {/* ================= right bar charts ================= */}
      <ChartBox x={955} y={170} w={210} h={180} make={() => groupedBarConfig(barCatsA, wtA, koA, wtErrA, koErrA, starA, 4, yTicksA, 45, 15)} />
      <div style={{ position: 'absolute', left: 1172, top: 179, width: 16, height: 12, background: BAR_WT }} />
      <Txt x={1191} y={185} t="WT" s={17} />
      <div style={{ position: 'absolute', left: 1172, top: 197, width: 16, height: 12, background: BAR_KO }} />
      <Txt x={1191} y={203} t="KO" s={17} />
      <Txt x={1174} y={222} t="* p<0.05" s={16} />
      <ChartBox x={945} y={486} w={300} h={178} make={() => groupedBarConfig(barCatsB, wtB, koB, wtErrB, koErrB, starB, 1.5, yTicksB, 57, 15)} />

      {/* ================= Panel C ================= */}
      <Txt x={8} y={893} t="C" s={21} b />
      <ChartBox x={126} y={900} w={532} h={271} make={boxConfig} />
      <Txt x={179} y={1163} t="Rad21 status:" a="r" s={17} />
      <Txt x={179} y={1194} t="Features:" a="r" s={17} />
      <Txt x={248} y={1194} t="Constituent" a="c" s={17} />
      <Txt x={248} y={1216} t="enhancers" a="c" s={17} />
      <Txt x={335} y={1205} t="Enhancers" a="c" s={17} />
      <Txt x={422} y={1194} t="Rad21" a="c" s={17} />
      <Txt x={422} y={1216} t="sites" a="c" s={17} />
      <Txt x={511} y={1205} t="TSSs" a="c" s={17} />
      <Txt x={598} y={1193} t="Random" a="c" s={17} />
      <Txt x={598} y={1214} t="regions" a="c" s={17} />
      <Txt x={179} y={1252} t="Within:" a="r" s={17} />
      <Txt x={250} y={1252} t="Super-" a="c" s={17} />
      <Txt x={250} y={1273} t="enhancers" a="c" s={17} />
      <Txt x={473} y={1252} t="Active chromatin compartments" a="c" s={17} />

      {/* ================= Panel D ================= */}
      <Txt x={728} y={893} t="D" s={21} b />
      <ChartBox x={660} y={915} w={520} h={240} make={effectConfig} />

      {/* zoom connectors between A and B */}
      <svg width={1245} height={1280} style={{ position: 'absolute', left: 0, top: 0, pointerEvents: 'none' }}>
        <line x1={xOfA(zoomLinks[0].fromKb)} y1={355} x2={xOfB(zoomLinks[0].toKb)} y2={473} stroke="#111" strokeWidth={3.2} strokeDasharray="0 10.5" strokeLinecap="round" />
        <line x1={xOfA(zoomLinks[1].fromKb)} y1={353} x2={xOfB(zoomLinks[1].toKb)} y2={458} stroke="#111" strokeWidth={3.2} strokeDasharray="0 10.5" strokeLinecap="round" />
      </svg>
    </div>
  );
}
